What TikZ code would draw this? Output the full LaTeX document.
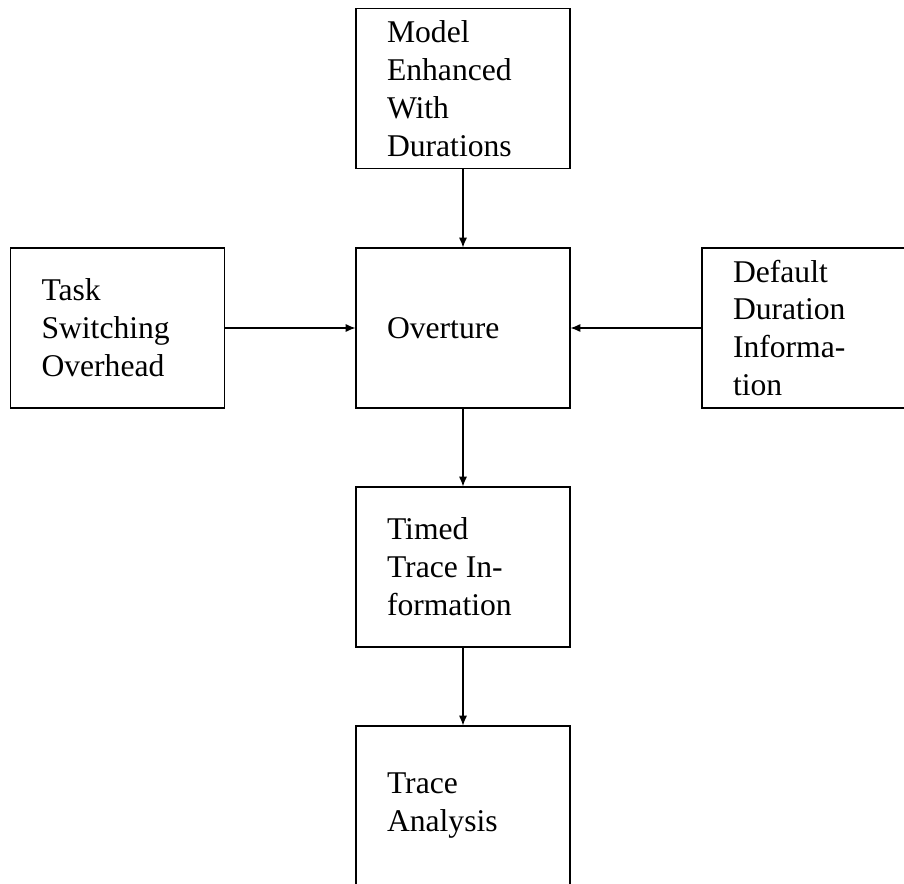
\documentclass[tikz,border=0pt]{standalone}
\usepackage{fontspec}
\setmainfont{Liberation Serif}
\usepackage{tikz}
\usetikzlibrary{arrows, arrows.meta, positioning}
\tikzset{>={Latex[length=5.6pt, width=4.6pt]}}
\tikzset{stagebox/.style={draw, line width=0.6pt, rectangle, minimum width=4.28cm, minimum height=3.2cm,
  text width=3.04cm, inner xsep=0.62cm, align=flush left, font=\fontsize{18}{21.6}\selectfont}}
\tikzset{flow/.style={->, line width=0.6pt}}

\begin{document}
\begin{tikzpicture}[scale=1]
\useasboundingbox (0, 0) rectangle (18.08, -17.68);

\node[stagebox] (model) at (9.26, -1.77) {Model\\Enhanced\\With\\Durations};
\node[stagebox] (overture) at (9.26, -6.56) {Overture};
\node[stagebox] (switching) at (2.35, -6.56) {Task\\Switching\\Overhead};
\node[stagebox] (defaults) at (16.18, -6.56) {Default\\Duration\\Informa-\\tion};
\node[stagebox] (timed) at (9.26, -11.34) {Timed\\Trace In-\\formation};
\node[stagebox] (analysis) at (9.26, -16.12) {Trace\\Analysis};

\draw[flow] (model) -- (overture);
\draw[flow] (switching) -- (overture);
\draw[flow] (defaults) -- (overture);
\draw[flow] (overture) -- (timed);
\draw[flow] (timed) -- (analysis);

\end{tikzpicture}
\end{document}
